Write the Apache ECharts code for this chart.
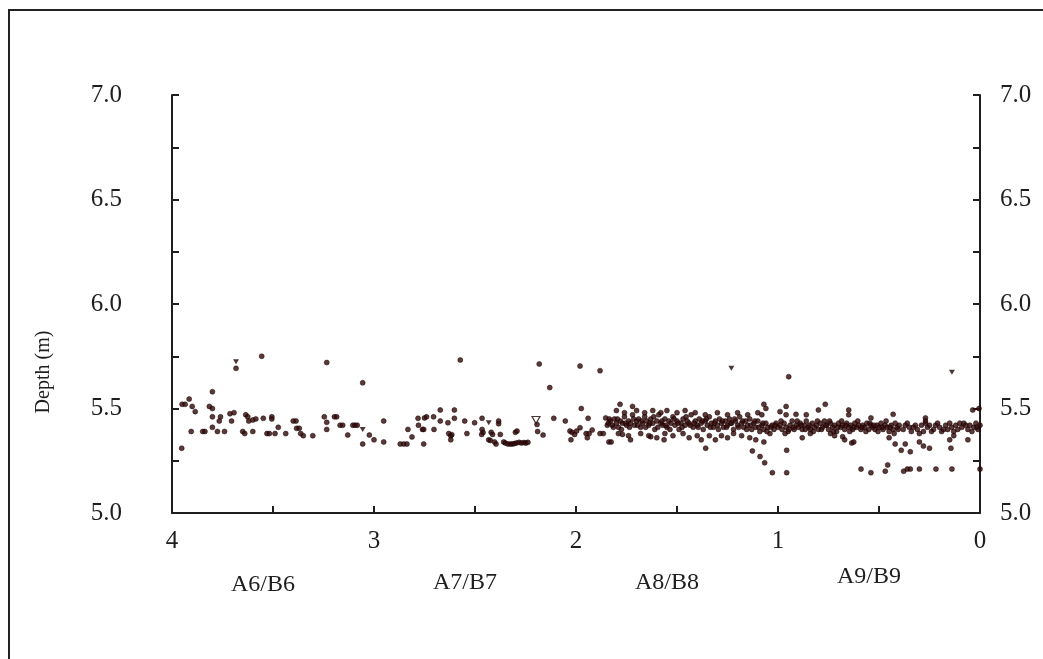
<!DOCTYPE html>
<html>
<head>
<meta charset="utf-8">
<script src="https://cdn.jsdelivr.net/npm/echarts@6/dist/echarts.min.js"></script>
<style>
  html, body { margin: 0; padding: 0; background: #fff; }
  #chart { width: 1043px; height: 659px; }
</style>
</head>
<body>
<div id="chart"></div>
<script>
// Distance along the section (m) and measured depth (m), grouped by reach.
const reachA6 = [
  [3.952,5.31],[3.950,5.52],[3.935,5.52],[3.915,5.545],[3.900,5.51],[3.885,5.485],[3.905,5.39],
  [3.848,5.39],[3.837,5.39],[3.800,5.58],[3.815,5.51],[3.800,5.50],[3.800,5.46],[3.800,5.41],
  [3.775,5.39],[3.760,5.46],[3.766,5.44],[3.740,5.39],[3.713,5.475],[3.693,5.48],[3.705,5.44],
  [3.683,5.692],[3.650,5.39],[3.640,5.38],[3.635,5.47],[3.625,5.46],[3.620,5.44],[3.600,5.445],
  [3.600,5.39],[3.585,5.45],[3.556,5.75],[3.548,5.453],[3.530,5.38],[3.518,5.38],[3.506,5.46],
  [3.506,5.45],[3.490,5.38],[3.474,5.41],[3.437,5.38],[3.400,5.44],[3.386,5.44],[3.383,5.405],
  [3.370,5.405],[3.363,5.38],[3.350,5.37],[3.303,5.37],[3.246,5.46],[3.234,5.72],[3.234,5.434],
  [3.234,5.40],[3.196,5.46],[3.185,5.46],[3.168,5.42],[3.155,5.42],[3.130,5.373],[3.105,5.42],
  [3.094,5.42],[3.083,5.42],[3.056,5.623],[3.056,5.33],[3.023,5.373],[3.000,5.35]
];
const reachA7 = [
  [2.952,5.44],[2.952,5.34],[2.870,5.33],[2.853,5.33],[2.837,5.33],[2.832,5.40],[2.812,5.364],
  [2.782,5.453],[2.780,5.42],[2.760,5.40],[2.754,5.40],[2.750,5.455],[2.740,5.46],[2.754,5.33],
  [2.705,5.46],[2.703,5.40],[2.672,5.493],[2.672,5.44],[2.634,5.432],[2.630,5.38],[2.620,5.37],
  [2.615,5.375],[2.620,5.35],[2.602,5.493],[2.602,5.453],[2.573,5.732],[2.551,5.44],[2.540,5.38],
  [2.502,5.432],[2.465,5.453],[2.465,5.40],[2.460,5.385],[2.467,5.376],[2.432,5.35],[2.424,5.347],
  [2.420,5.386],[2.413,5.376],[2.403,5.34],[2.396,5.33],[2.383,5.44],[2.383,5.427],[2.375,5.376],
  [2.358,5.34],[2.350,5.335],[2.337,5.33],[2.325,5.33],[2.315,5.33],[2.305,5.332],[2.295,5.335],
  [2.282,5.338],[2.270,5.335],[2.258,5.337],[2.248,5.335],[2.238,5.338],[2.300,5.386],[2.292,5.392],
  [2.193,5.424],[2.190,5.39],[2.182,5.713],[2.163,5.373],[2.130,5.60],[2.110,5.453],[2.053,5.44],
  [2.030,5.392],[2.020,5.386],[2.007,5.376],[2.025,5.35]
];
const reachA8 = [
  [1.980,5.703],[1.881,5.681],[1.974,5.50],[1.940,5.453],[1.980,5.408],[1.997,5.392],[1.950,5.38],
  [1.944,5.36],[1.935,5.38],[1.920,5.397],[1.881,5.38],[1.865,5.38],[1.853,5.455],[1.845,5.42],
  [1.837,5.34],[1.826,5.34],[1.782,5.52],[1.770,5.376],[1.730,5.35],[1.720,5.51],[1.630,5.365],
  [1.564,5.35],[1.358,5.31],[1.127,5.297],[1.089,5.27],[1.066,5.24],[1.028,5.193],[1.070,5.52],
  [1.84,5.43],[1.83,5.44],[1.82,5.42],[1.81,5.45],[1.80,5.43],[1.79,5.41],[1.78,5.44],[1.77,5.43],
  [1.76,5.46],[1.75,5.42],[1.74,5.44],[1.73,5.43],[1.72,5.47],[1.71,5.42],[1.70,5.44],[1.69,5.45],
  [1.68,5.41],[1.67,5.43],[1.66,5.46],[1.65,5.44],[1.64,5.42],[1.63,5.45],[1.62,5.43],[1.61,5.40],
  [1.60,5.44],[1.59,5.47],[1.58,5.43],[1.57,5.42],[1.56,5.45],[1.55,5.41],[1.54,5.44],[1.53,5.43],
  [1.52,5.46],[1.51,5.42],[1.50,5.44],[1.49,5.40],[1.48,5.43],[1.47,5.45],[1.46,5.42],[1.45,5.44],
  [1.44,5.43],[1.43,5.47],[1.42,5.41],[1.41,5.44],[1.40,5.42],[1.39,5.45],[1.38,5.43],[1.37,5.40],
  [1.36,5.44],[1.35,5.42],[1.34,5.46],[1.33,5.43],[1.32,5.41],[1.31,5.44],[1.30,5.42],[1.29,5.45],
  [1.28,5.43],[1.27,5.41],[1.26,5.44],[1.25,5.42],[1.24,5.45],[1.23,5.43],[1.22,5.40],[1.21,5.44],
  [1.20,5.42],[1.19,5.46],[1.18,5.43],[1.17,5.41],[1.16,5.44],[1.15,5.42],[1.14,5.45],[1.13,5.40],
  [1.12,5.43],[1.11,5.41],[1.10,5.44],[1.09,5.39],[1.08,5.42],[1.07,5.40],[1.06,5.43],[1.05,5.41],
  [1.04,5.38],[1.03,5.42],[1.02,5.40],[1.01,5.43],[1.00,5.41],
  [1.835,5.45],[1.815,5.41],[1.795,5.45],[1.775,5.40],[1.755,5.43],[1.735,5.41],[1.715,5.45],
  [1.695,5.42],[1.675,5.44],[1.655,5.41],[1.635,5.43],[1.615,5.46],[1.595,5.41],[1.575,5.44],
  [1.555,5.42],[1.535,5.40],[1.515,5.45],[1.495,5.43],[1.475,5.41],[1.455,5.46],[1.435,5.42],
  [1.415,5.43],[1.395,5.41],[1.375,5.44],[1.355,5.45],[1.335,5.41],[1.315,5.43],[1.295,5.40],
  [1.275,5.44],[1.255,5.41],[1.235,5.43],[1.215,5.45],[1.195,5.41],[1.175,5.44],[1.155,5.40],
  [1.135,5.42],[1.115,5.44],[1.095,5.41],[1.075,5.43],[1.055,5.39],[1.035,5.41],[1.015,5.42],
  [1.80,5.49],[1.76,5.48],[1.70,5.49],[1.66,5.48],[1.62,5.49],[1.58,5.48],[1.55,5.49],[1.50,5.48],
  [1.46,5.49],[1.41,5.48],[1.36,5.47],[1.30,5.48],[1.25,5.47],[1.20,5.48],[1.15,5.47],[1.10,5.48],
  [1.08,5.47],[1.06,5.50],
  [1.79,5.38],[1.74,5.37],[1.68,5.38],[1.64,5.37],[1.60,5.36],[1.56,5.38],[1.52,5.37],[1.47,5.38],
  [1.44,5.36],[1.40,5.37],[1.38,5.35],[1.34,5.37],[1.31,5.35],[1.28,5.37],[1.25,5.36],[1.22,5.38],
  [1.18,5.37],[1.14,5.36],[1.11,5.35],[1.07,5.34]
];
const reachA9 = [
  [0.99,5.42],[0.98,5.40],[0.97,5.43],[0.96,5.41],[0.95,5.39],[0.94,5.42],[0.93,5.44],[0.92,5.40],
  [0.91,5.42],[0.90,5.41],[0.89,5.43],[0.88,5.40],[0.87,5.42],[0.86,5.44],[0.85,5.41],[0.84,5.40],
  [0.83,5.43],[0.82,5.41],[0.81,5.42],[0.80,5.40],[0.79,5.43],[0.78,5.41],[0.77,5.44],[0.76,5.42],
  [0.75,5.40],[0.74,5.43],[0.73,5.41],[0.72,5.42],[0.71,5.39],[0.70,5.43],[0.69,5.41],[0.68,5.42],
  [0.67,5.40],[0.66,5.43],[0.65,5.41],[0.64,5.42],[0.63,5.40],[0.62,5.43],[0.61,5.41],[0.60,5.42],
  [0.59,5.40],[0.58,5.42],[0.57,5.41],[0.56,5.43],[0.55,5.40],[0.54,5.42],[0.53,5.41],[0.52,5.40],
  [0.51,5.42],[0.50,5.41],[0.49,5.43],[0.48,5.40],[0.47,5.42],[0.46,5.41],[0.45,5.39],[0.44,5.42],
  [0.43,5.40],[0.42,5.43],[0.41,5.41],[0.40,5.42],[0.38,5.40],[0.37,5.42],[0.35,5.41],[0.34,5.39],
  [0.32,5.42],[0.31,5.40],[0.29,5.42],[0.28,5.39],[0.26,5.41],[0.25,5.42],[0.23,5.40],[0.22,5.42],
  [0.20,5.41],[0.19,5.39],[0.17,5.42],[0.16,5.40],[0.14,5.41],[0.12,5.42],[0.11,5.40],[0.09,5.41],
  [0.08,5.43],[0.06,5.40],[0.05,5.42],[0.03,5.41],[0.02,5.43],[0.01,5.40],[0.00,5.42],
  [0.985,5.44],[0.965,5.38],[0.945,5.40],[0.925,5.41],[0.905,5.44],[0.885,5.42],[0.865,5.40],
  [0.845,5.42],[0.825,5.39],[0.805,5.44],[0.785,5.40],[0.765,5.42],[0.745,5.44],[0.725,5.39],
  [0.705,5.41],[0.685,5.44],[0.665,5.42],[0.645,5.39],[0.625,5.41],[0.605,5.44],[0.585,5.41],
  [0.565,5.39],[0.545,5.43],[0.525,5.42],[0.505,5.39],[0.485,5.41],[0.465,5.44],[0.445,5.41],
  [0.425,5.38],[0.405,5.40],[0.36,5.43],[0.33,5.41],[0.30,5.38],[0.27,5.43],[0.24,5.39],
  [0.21,5.43],[0.18,5.40],[0.15,5.43],[0.13,5.39],[0.10,5.43],[0.07,5.42],[0.04,5.39],[0.015,5.41],
  [0.947,5.652],[0.960,5.51],[0.960,5.47],[0.990,5.485],[0.957,5.30],[0.957,5.193],[0.911,5.472],
  [0.800,5.493],[0.766,5.52],[0.650,5.493],[0.650,5.47],[0.680,5.365],[0.670,5.35],[0.635,5.335],
  [0.625,5.34],[0.540,5.455],[0.589,5.21],[0.540,5.193],[0.469,5.20],[0.457,5.23],[0.430,5.472],
  [0.378,5.20],[0.360,5.21],[0.345,5.21],[0.300,5.21],[0.218,5.21],[0.139,5.21],[0.144,5.31],
  [0.000,5.21],[0.036,5.493],[0.270,5.455],[0.270,5.44],[0.370,5.33],[0.300,5.34],[0.280,5.32],
  [0.250,5.31],[0.450,5.36],[0.420,5.33],[0.390,5.30],[0.345,5.293],[0.060,5.35],[0.150,5.35],
  [0.130,5.37],[0.860,5.47],[0.840,5.38],[0.740,5.38],[0.720,5.37],[0.880,5.36],[0.005,5.50]
];
// Readings flagged with a downward triangle
const flaggedFilled = [[3.683,5.724],[3.056,5.40],[2.432,5.432],[1.231,5.692],[0.139,5.673]];
const flaggedOpen = [[2.198,5.445]];

const xTicks = ['0', '1', '2', '3', '4'];
const reachNames = ['A9/B9', 'A8/B8', 'A7/B7', 'A6/B6'];
const reachCentres = [0.55, 1.55, 2.55, 3.55];

const FONT = 'Liberation Serif';
const INK = '#1e1e1e';
const DOT = '#330808';
// vertical placement of each reach name below the axis (px)
const reachNameDrop = [64, 70, 70, 72];

const chart = echarts.init(document.getElementById('chart'), null, { renderer: 'canvas' });

function yAxisDef(pos, gap) {
  return {
    type: 'value', position: pos, min: 5, max: 7, interval: 0.25,
    axisLine: { show: true, onZero: false, lineStyle: { color: INK, width: 2 } },
    axisTick: { show: true, inside: true, length: 7, lineStyle: { color: INK, width: 2 } },
    splitLine: { show: false },
    axisLabel: {
      margin: gap, fontFamily: FONT, fontSize: 25, color: INK,
      formatter: v => (Math.abs(v * 2 - Math.round(v * 2)) < 1e-6 ? v.toFixed(1) : '')
    }
  };
}

const dotSeries = (name, data) => ({
  name, type: 'scatter', data, symbol: 'circle', symbolSize: 5,
  itemStyle: { color: DOT, borderColor: '#140202', borderWidth: 0.6 },
  silent: true
});

chart.setOption({
  animation: false,
  backgroundColor: '#fff',
  grid: { left: 172, right: 63, top: 95, bottom: 146 },
  xAxis: {
    type: 'value', min: 0, max: 4, interval: 0.5, inverse: true,
    axisLine: { show: true, onZero: false, lineStyle: { color: INK, width: 2 } },
    axisTick: { show: true, inside: true, length: 7, lineStyle: { color: INK, width: 2 } },
    splitLine: { show: false },
    axisLabel: {
      margin: 16, fontFamily: FONT, fontSize: 25, color: INK,
      formatter: v => (Number.isInteger(v) ? xTicks[v] : '')
    }
  },
  yAxis: [
    Object.assign(yAxisDef('left', 50), {
      name: 'Depth (m)', nameLocation: 'middle', nameGap: 118, nameRotate: 90,
      nameTextStyle: { fontFamily: FONT, fontSize: 20, color: INK, padding: [0, 0, 0, -136] }
    }),
    yAxisDef('right', 20)
  ],
  series: [
    dotSeries('A6/B6', reachA6),
    dotSeries('A7/B7', reachA7),
    dotSeries('A8/B8', reachA8),
    dotSeries('A9/B9', reachA9),
    {
      name: 'flagged', type: 'scatter', data: flaggedFilled, symbol: 'triangle',
      symbolRotate: 180, symbolSize: [6, 5], silent: true,
      itemStyle: { color: '#200404' }
    },
    {
      name: 'flagged open', type: 'scatter', data: flaggedOpen, symbol: 'triangle',
      symbolRotate: 180, symbolSize: [8, 7], silent: true,
      itemStyle: { color: '#fff', borderColor: '#200404', borderWidth: 1.2 }
    }
  ]
});

// Figure frame and reach names placed through the distance scale
const gridBottom = chart.convertToPixel({ yAxisIndex: 0 }, 5);
chart.setOption({
  graphic: [
    {
      type: 'rect', silent: true, z: -1,
      shape: { x: 9, y: 10, width: 1100, height: 700 },
      style: { fill: 'none', stroke: '#222', lineWidth: 2 }
    }
  ].concat(reachNames.map((n, i) => ({
    type: 'text', silent: true,
    x: chart.convertToPixel({ xAxisIndex: 0 }, reachCentres[i]),
    y: gridBottom + reachNameDrop[i],
    style: {
      text: n, fontFamily: FONT, fontSize: 24, fill: INK,
      align: 'center', verticalAlign: 'middle'
    }
  })))
});
</script>
</body>
</html>
